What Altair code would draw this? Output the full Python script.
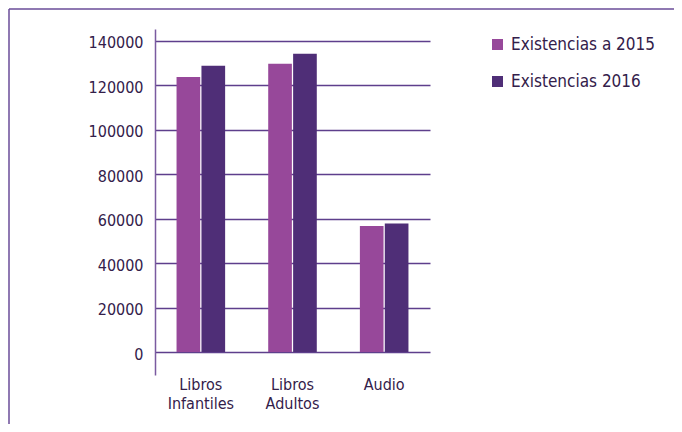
import altair as alt
import pandas as pd

categories = ["Libros Infantiles", "Libros Adultos", "Audio"]
series = ["Existencias a 2015", "Existencias 2016"]
values_2015 = [123800, 129800, 56700]
values_2016 = [128900, 134300, 57900]
y_ticks = [0, 20000, 40000, 60000, 80000, 100000, 120000, 140000]
colors = ["#97489a", "#4f2e77"]

rows = []
for c, v1, v2 in zip(categories, values_2015, values_2016):
    rows.append({"cat": c, "serie": series[0], "val": v1})
    rows.append({"cat": c, "serie": series[1], "val": v2})
df = pd.DataFrame(rows)

FONT = "Liberation Sans Narrow, DejaVu Sans Condensed, sans-serif"
TXT = "#33204a"

bars = alt.Chart(df).mark_bar().encode(
    x=alt.X("cat:N", sort=categories, title=None,
            scale=alt.Scale(paddingInner=0.47, paddingOuter=0.235),
            axis=alt.Axis(labelAngle=0, domain=False, ticks=False,
                          labelExpr="split(datum.label, ' ')",
                          labelFont=FONT, labelFontSize=16, labelColor=TXT,
                          labelLineHeight=19, labelPadding=1, labelBaseline="top")),
    xOffset=alt.XOffset("serie:N", sort=series,
                        scale=alt.Scale(paddingInner=0.05)),
    y=alt.Y("val:Q", title=None,
            scale=alt.Scale(domain=[-10350, 145400], nice=False, zero=False),
            axis=alt.Axis(values=y_ticks, format="d", grid=True, gridColor="#5e3f8c",
                          gridWidth=1.3, domainColor="#7a5aa0", domainWidth=1.5,
                          ticks=False, labelPadding=12, labelOffset=2,
                          labelFont=FONT, labelFontSize=16, labelColor=TXT)),
    y2=alt.datum(0),
    color=alt.Color("serie:N", sort=series,
                    scale=alt.Scale(domain=series, range=colors),
                    legend=alt.Legend(title=None, orient="none", legendX=334,
                                      legendY=7, symbolType="square",
                                      symbolSize=121, symbolStrokeWidth=0,
                                      labelFont=FONT, labelFontSize=17,
                                      labelColor=TXT, labelOffset=5,
                                      rowPadding=19, padding=0)),
)

frame_data = alt.Data(values=[{"k": 1}])
top_line = alt.Chart(frame_data).mark_rule(color="#6a4c99", strokeWidth=1.5).encode(
    x=alt.value(-146), x2=alt.value(530), y=alt.value(-20))
left_line = alt.Chart(frame_data).mark_rule(color="#6a4c99", strokeWidth=1.5).encode(
    x=alt.value(-146), y=alt.value(-20), y2=alt.value(410))

chart = alt.layer(bars, top_line, left_line).properties(
    width=275, height=346,
    padding={"left": 147, "top": 21, "right": 244, "bottom": 49},
    autosize=alt.AutoSizeParams(type="none"),
).configure_view(stroke=None)

chart.save("out.html", embed_options={"renderer": "svg", "actions": False})
